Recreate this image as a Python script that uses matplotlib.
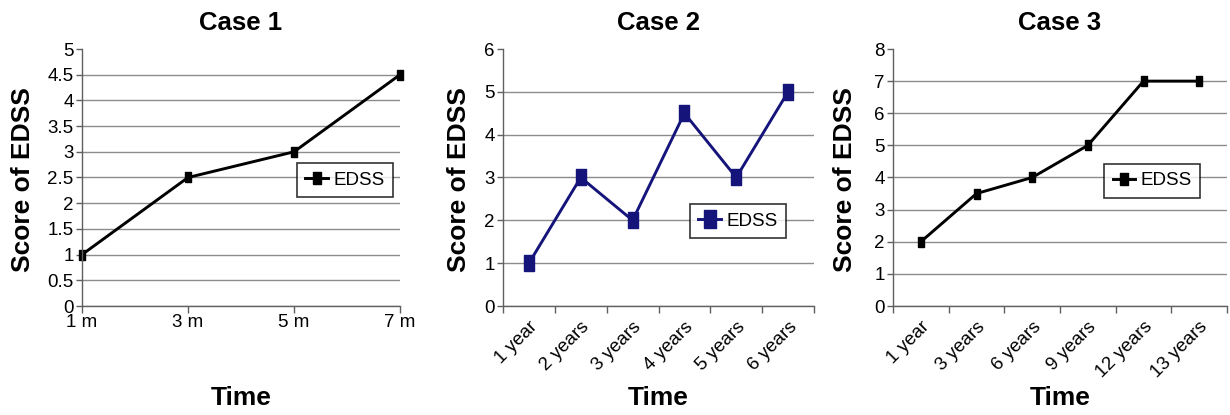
import numpy as np
import matplotlib
matplotlib.use('Agg')
import matplotlib.pyplot as plt
from matplotlib.ticker import FormatStrFormatter

plt.rcParams['font.family'] = ['Liberation Sans', 'DejaVu Sans']

## data
case1_labels = ['1 m', '3 m', '5 m', '7 m']
case1_edss = [1, 2.5, 3, 4.5]

case2_labels = ['1 year', '2 years', '3 years', '4 years', '5 years', '6 years']
case2_edss = [1, 3, 2, 4.5, 3, 5]

case3_labels = ['1 year', '3 years', '6 years', '9 years', '12 years', '13 years']
case3_edss = [2, 3.5, 4, 5, 7, 7]

# tall rectangle marker like the old Excel one
rect = [(-0.32, -0.5), (0.32, -0.5), (0.32, 0.5), (-0.32, 0.5), (-0.32, -0.5)]

fig = plt.figure(figsize=(12.3, 4.15), dpi=100)
W, H = 1230., 415.

def make_ax(x0, x1, y0=49, y1=306):
  return fig.add_axes([x0 / W, 1 - y1 / H, (x1 - x0) / W, (y1 - y0) / H])

def style_ax(ax, ymax, ystep):
  for s in ['top', 'right']:
    ax.spines[s].set_visible(False)
  for s in ['left', 'bottom']:
    ax.spines[s].set_color('#606060')
    ax.spines[s].set_linewidth(1.0)
  ax.set_ylim(0, ymax)
  ax.set_yticks(np.arange(0, ymax + ystep / 2, ystep))
  ax.yaxis.set_major_formatter(FormatStrFormatter('%g'))
  ax.tick_params(axis='y', length=4, width=1, color='#606060', labelsize=13.5, pad=2)
  ax.yaxis.grid(True, color='#8c8c8c', linewidth=1.0)
  ax.get_ygridlines()[-1].set_visible(False)
  ax.set_axisbelow(True)

def add_legend(ax, x, y):
  leg = ax.legend(loc='upper left', bbox_to_anchor=(x, y), borderaxespad=0,
                  frameon=True, fancybox=False, fontsize=13.5, handlelength=1.2,
                  handletextpad=0.3, borderpad=0.45, markerscale=1.2)
  leg.get_frame().set_edgecolor('black')
  leg.get_frame().set_linewidth(1.2)

def add_text(ax, x0, x1, title, ylab_x):
  xc = (x0 + x1) / 2 / W
  fig.text(xc, 1 - 23 / H, title, ha='center', va='center', fontsize=18.5, fontweight='bold')
  fig.text(xc, 1 - 398 / H, 'Time', ha='center', va='center', fontsize=19, fontweight='bold')
  fig.text(ylab_x / W, 1 - 180 / H, 'Score of EDSS', ha='center', va='center',
           rotation=90, fontsize=19, fontweight='bold')

###--- Case 1
ax1 = make_ax(82, 400)
x = np.arange(len(case1_labels))
ax1.plot(x, case1_edss, color='black', lw=2.1, marker=rect, markersize=7.5, label='EDSS', clip_on=False)
ax1.set_xlim(0, len(case1_labels) - 1)
ax1.set_xticks(x)
ax1.set_xticklabels(case1_labels)
ax1.tick_params(axis='x', length=5, width=1, color='#606060', labelsize=13.5, pad=1)
style_ax(ax1, 5, 0.5)
add_legend(ax1, 0.676, 0.556)
add_text(ax1, 82, 400, 'Case 1', 23)

###--- Case 2 and 3 (categorical axes, ticks between categories)
for (x0, x1, labels, vals, col, ms, ymax, lx, ly, ylab_x, title) in [
    (503, 814, case2_labels, case2_edss, '#14147a', 11, 6, 0.601, 0.397, 459, 'Case 2'),
    (893, 1227, case3_labels, case3_edss, 'black', 7.5, 8, 0.632, 0.553, 845, 'Case 3')]:
  ax = make_ax(x0, x1)
  x = np.arange(len(labels))
  ax.plot(x, vals, color=col, lw=2.1, marker=rect, markersize=ms, label='EDSS')
  ax.set_xlim(-0.5, len(labels) - 0.5)
  ax.set_xticks(x)
  ax.set_xticklabels(labels, rotation=45, ha='right', rotation_mode='anchor')
  ax.set_xticks(np.arange(-0.5, len(labels)), minor=True)
  ax.tick_params(axis='x', which='major', length=0, labelsize=13.5, pad=9)
  ax.tick_params(axis='x', which='minor', length=5, width=1, color='#606060')
  style_ax(ax, ymax, 1)
  add_legend(ax, lx, ly)
  add_text(ax, x0, x1, title, ylab_x)

plt.savefig('out.png', dpi=100)
